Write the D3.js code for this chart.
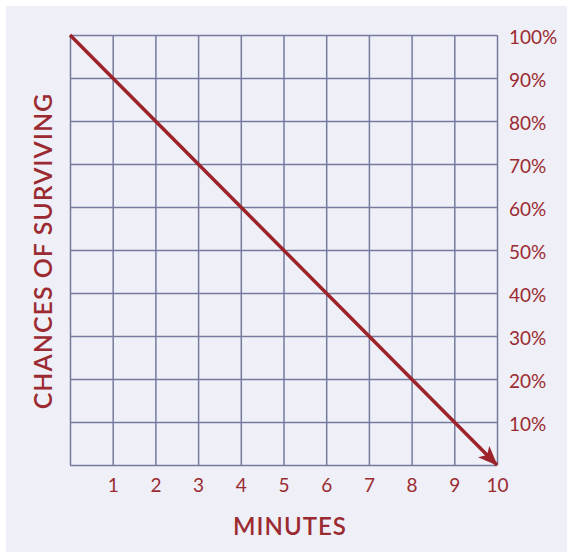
<!DOCTYPE html>
<html>
<head>
<meta charset="utf-8">
<script src="https://cdn.jsdelivr.net/npm/d3@7"></script>
<style>
  html, body { margin: 0; padding: 0; background: #ffffff; }
  svg { display: block; }
</style>
</head>
<body>
<svg id="chart" width="567" height="552"></svg>
<script>
// ---- data ----
const minutes = [0, 10];
const chances = [100, 0];
const xTicks = [1, 2, 3, 4, 5, 6, 7, 8, 9, 10];
const xTickLabels = ["1", "2", "3", "4", "5", "6", "7", "8", "9", "10"];
const yTicks = [10, 20, 30, 40, 50, 60, 70, 80, 90, 100];
const yTickLabels = ["10%", "20%", "30%", "40%", "50%", "60%", "70%", "80%", "90%", "100%"];
const xTitle = "MINUTES";
const yTitle = "CHANCES OF SURVIVING";

// ---- layout ----
const W = 567, H = 552;
const m = { left: 70, right: 70, top: 35, bottom: 87 };
const svg = d3.select("#chart");
const red = "#9c2329";
const textRed = "#9b2a31";
const gridCol = "#767a9e";
const font = "Lato, 'Open Sans', sans-serif";

svg.append("rect").attr("x", 6).attr("y", 6).attr("width", W - 6).attr("height", H - 6).attr("fill", "#efeff7");

const x = d3.scaleLinear().domain([0, 10]).range([m.left, W - m.right]);
const y = d3.scaleLinear().domain([0, 100]).range([H - m.bottom, m.top]);

// grid
const gx = svg.append("g").attr("transform", `translate(0,${y(0)})`)
  .call(d3.axisBottom(x).tickValues(d3.range(0, 11)).tickSize(-(y(0) - y(100))).tickFormat(""));
gx.select(".domain").remove();
gx.selectAll("line").attr("stroke", gridCol).attr("stroke-width", 1.5);

const gy = svg.append("g").attr("transform", `translate(${x(0)},0)`)
  .call(d3.axisLeft(y).tickValues(d3.range(0, 101, 10)).tickSize(-(x(10) - x(0))).tickFormat(""));
gy.select(".domain").remove();
gy.selectAll("line").attr("stroke", gridCol).attr("stroke-width", 1.5);

// x tick labels
const ax = svg.append("g").attr("transform", `translate(0,${y(0)})`)
  .call(d3.axisBottom(x).tickValues(xTicks).tickSize(0).tickPadding(14)
    .tickFormat((d, i) => xTickLabels[i]));
ax.select(".domain").remove();
ax.selectAll("text").attr("fill", textRed).attr("font-family", font).attr("font-size", 19);

// y tick labels (right)
const ay = svg.append("g").attr("transform", `translate(${x(10)},0)`)
  .call(d3.axisRight(y).tickValues(yTicks).tickSize(0).tickPadding(12)
    .tickFormat((d, i) => yTickLabels[i]));
ay.select(".domain").remove();
ay.selectAll("text").attr("fill", textRed).attr("font-family", font).attr("font-size", 19).attr("dy", "0.45em");

// arrow marker
const defs = svg.append("defs");
defs.append("marker").attr("id", "arrow")
  .attr("viewBox", "0 0 20 16").attr("refX", 19).attr("refY", 8)
  .attr("markerWidth", 20).attr("markerHeight", 16).attr("markerUnits", "userSpaceOnUse")
  .attr("orient", "auto")
  .append("path").attr("d", "M0,0 L20,8 L0,16 L5,8 Z").attr("fill", red);

// line
const pts = minutes.map((d, i) => [d, chances[i]]);
svg.append("path").datum(pts)
  .attr("d", d3.line().x(d => x(d[0])).y(d => y(d[1])))
  .attr("fill", "none").attr("stroke", red).attr("stroke-width", 3.5)
  .attr("marker-end", "url(#arrow)");

// titles
svg.append("text").attr("x", 290).attr("y", 535)
  .attr("text-anchor", "middle").attr("fill", textRed).attr("font-family", font)
  .attr("font-size", 24).attr("font-weight", 600).attr("letter-spacing", 1).text(xTitle);

svg.append("text").attr("transform", `translate(52,${(92 + 410) / 2}) rotate(-90)`)
  .attr("text-anchor", "middle").attr("fill", textRed).attr("font-family", font)
  .attr("font-size", 25).attr("font-weight", 600).attr("letter-spacing", 1).text(yTitle);
</script>
</body>
</html>
